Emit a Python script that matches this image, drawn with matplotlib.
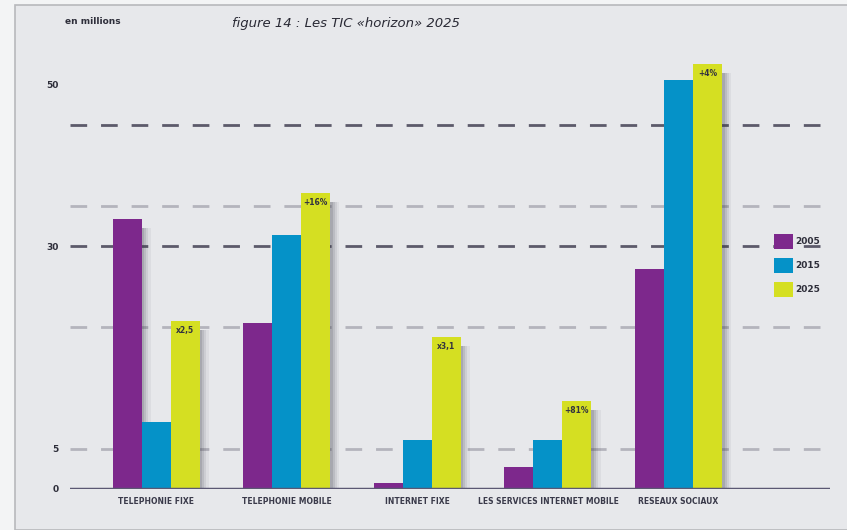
import numpy as np
import matplotlib.pyplot as plt
from matplotlib.patches import Rectangle

categories = ["TELEPHONIE FIXE", "TELEPHONIE MOBILE", "INTERNET FIXE",
              "LES SERVICES INTERNET MOBILE", "RESEAUX SOCIAUX"]
years = ["2005", "2015", "2025"]
v2005 = [33.3, 20.5, 0.7, 2.7, 27.2]
v2015 = [8.3, 31.4, 6.0, 6.0, 50.5]
v2025 = [20.7, 36.5, 18.8, 10.9, 52.5]
notes_2025 = ["x2,5", "+16%", "x3,1", "+81%", "+4%"]
ytick_vals = [0, 5, 30, 50]
grid_dark = [30, 45]
grid_light = [5, 20, 35]

colors = ["#7d288c", "#0592c8", "#d5df22"]

fig = plt.figure(figsize=(8.47, 5.30), dpi=100)
fig.patch.set_facecolor("#f3f4f5")
# panel frame, behind everything
fig.patches.append(Rectangle((15 / 847, 0), 1, 1 - 5 / 530, transform=fig.transFigure,
                             facecolor="#e7e8eb", edgecolor="#b8b9bc", lw=1.2, zorder=-10))

ax = fig.add_axes([70 / 847, 1 - 489 / 530, 760 / 847, 469.8 / 530])
ax.set_facecolor("none")
ax.set_xlim(-0.66, 5.16)
ax.set_ylim(0, 58)

for v in grid_light:
    ax.axhline(v, color="#b4b4bc", lw=2, dashes=(6, 5), zorder=1)
for v in grid_dark:
    ax.axhline(v, color="#5c5a6a", lw=2, dashes=(6, 5), zorder=1)

x = np.arange(len(categories))
w = 0.222
series = [v2005, v2015, v2025]
for k, vals in enumerate(series):
    xs = x + (k - 1) * w
    # soft drop shadow to the right
    for dx, a in [(0.07, 0.06), (0.05, 0.09), (0.035, 0.12), (0.02, 0.15)]:
        ax.bar(xs + dx, np.array(vals) - 0.6, width=w, bottom=-0.5,
               color="#3a3a48", alpha=a, lw=0, zorder=2)
for k, vals in enumerate(series):
    xs = x + (k - 1) * w
    ax.bar(xs, vals, width=w, color=colors[k], lw=0, zorder=3, label=years[k])

for i, (v, t) in enumerate(zip(v2025, notes_2025)):
    ax.text(x[i] + w, v - 0.6, t, ha="center", va="top", fontsize=5.5,
            fontweight="bold", color="#333340", zorder=4)

ax.axhline(0, color="#5b5873", lw=2.5, zorder=5)

ax.set_yticks(ytick_vals)
ax.set_yticklabels([str(v) for v in ytick_vals], fontsize=6.5, fontweight="bold",
                   color="#2e2e3a")
ax.tick_params(axis="y", length=0, pad=8)
ax.set_xticks(x)
ax.set_xticklabels(categories, fontsize=5.5, fontweight="bold", color="#3a3a4a")
ax.tick_params(axis="x", length=0, pad=6)
for s in ax.spines.values():
    s.set_visible(False)

leg = ax.legend(loc="upper left", bbox_to_anchor=(766 / 847, 1 - 226 / 530),
                bbox_transform=fig.transFigure, frameon=False, fontsize=6.5,
                handlelength=2.1, handleheight=2.1, labelspacing=1.05, handletextpad=0.2)
for t in leg.get_texts():
    t.set_color("#2e2e3a")
    t.set_fontweight("bold")

fig.text(65 / 847, 1 - 22 / 530, "en millions", fontsize=6.5, fontweight="bold",
         color="#2e2e3a", va="center")
fig.text(232 / 847, 1 - 24 / 530, "figure 14 : Les TIC «horizon» 2025", fontsize=9.5,
         style="italic", color="#2a2a35", va="center")

fig.savefig("out.png", dpi=100, facecolor=fig.get_facecolor())
